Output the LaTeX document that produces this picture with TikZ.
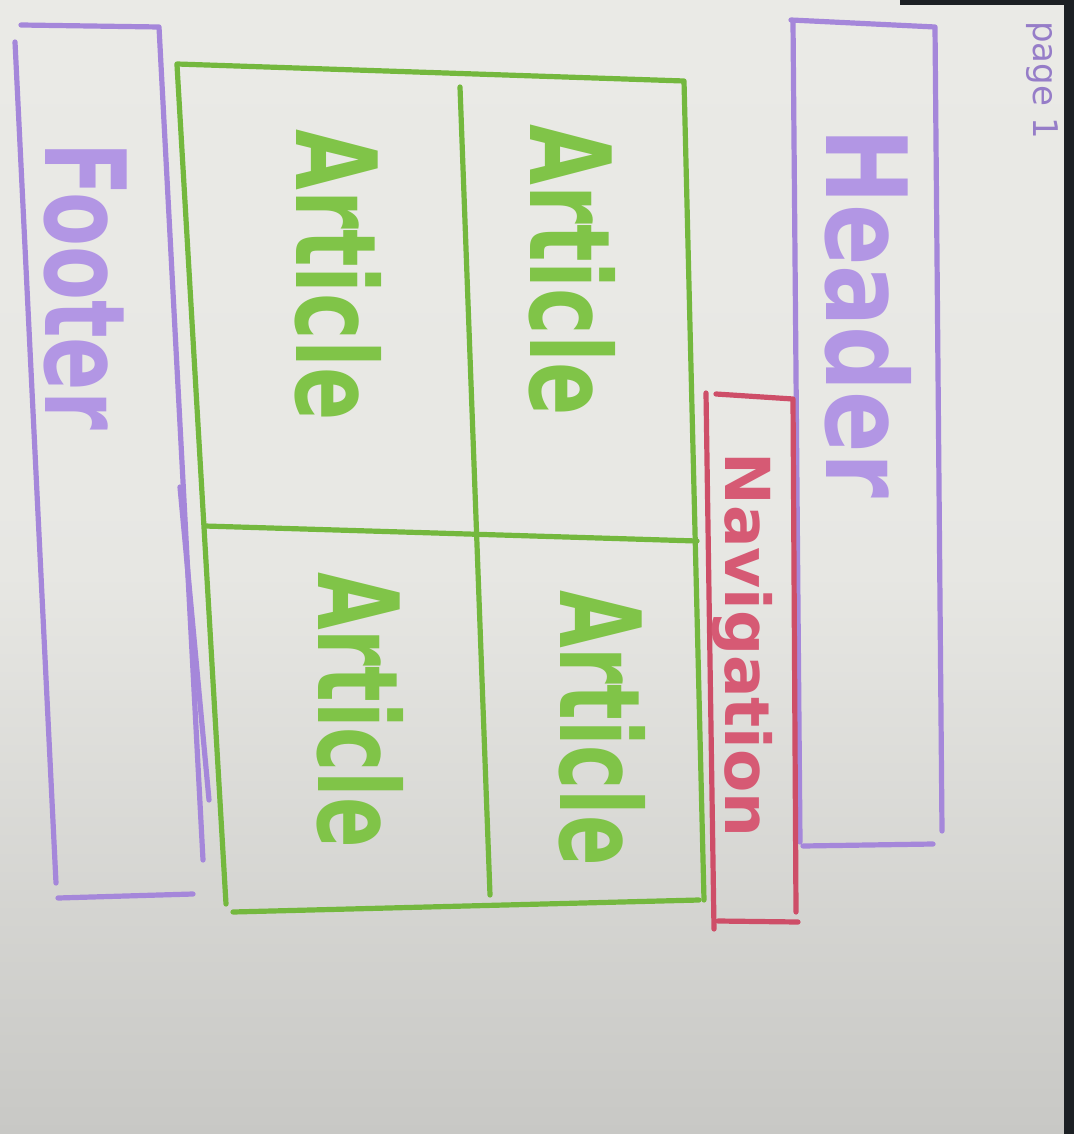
\documentclass[tikz,border=0pt]{standalone}
\usepackage{fontspec}
\newfontfamily\marker{DejaVu Sans Condensed}
\newfontfamily\pen{DejaVu Sans}
\definecolor{paperTop}{RGB}{234,234,230}
\definecolor{paperBot}{RGB}{200,200,197}
\definecolor{edge}{RGB}{28,32,36}
\definecolor{lilac}{RGB}{165,135,218}
\definecolor{lilacText}{RGB}{178,150,228}
\definecolor{grass}{RGB}{116,184,62}
\definecolor{grassText}{RGB}{128,196,72}
\definecolor{rose}{RGB}{206,78,104}
\definecolor{roseText}{RGB}{214,90,116}
\definecolor{penInk}{RGB}{150,125,200}
\tikzset{
  stroke/.style={line width=2.6pt, line cap=round, line join=round},
  lilacline/.style={stroke, draw=lilac},
  grassline/.style={stroke, draw=grass},
  roseline/.style={stroke, draw=rose},
  label/.style={inner sep=0pt, anchor=base, rotate=-90},
  bigword/.style={label, font=\marker\bfseries\fontsize{56}{60}\selectfont},
}
\begin{document}
\begin{tikzpicture}[x=0.5pt,y=-0.5pt]
  % paper
  \useasboundingbox (0,0) rectangle (1074,1134);
  \shade[top color=paperTop, bottom color=paperBot, middle color=paperTop!92!paperBot]
    (0,0) rectangle (1074,1134);
  \fill[edge] (1064,0) rectangle (1074,1134);
  \fill[edge] (900,0) rectangle (1074,5);

  % page number
  \node[label, font=\pen\fontsize{17}{18}\selectfont, text=penInk] (pagenum) at (1033,80) {page 1};

  % header block
  \draw[lilacline] (791,20) -- (935,27) -- (942,831);
  \draw[lilacline] (793,22) -- (800,842);
  \draw[lilacline] (803,846) -- (933,844);
  \node[bigword, text=lilacText, xscale=0.9] (header) at (826,313) {Header};

  % navigation block
  \draw[roseline] (716,394) -- (793,399) -- (796,912);
  \draw[roseline] (706,393) -- (714,929);
  \draw[roseline] (718,921) -- (798,922);
  \node[label, font=\marker\bfseries\fontsize{31}{34}\selectfont, text=roseText, xscale=1.13] (nav) at (725,645) {Navigation};

  % article grid
  \draw[grassline] (177,64) -- (684,81) -- (704,900);
  \draw[grassline] (177,65) -- (226,904);
  \draw[grassline] (233,912) -- (699,900);
  \draw[grassline] (205,526) -- (697,541);
  \draw[grassline] (460,87) -- (490,895);
  \node[bigword, text=grassText, xscale=0.78] (art1) at (296,275) {Article};
  \node[bigword, text=grassText, xscale=0.78] (art2) at (530,270) {Article};
  \node[bigword, text=grassText, xscale=0.74] (art3) at (318,710) {Article};
  \node[bigword, text=grassText, xscale=0.74] (art4) at (560,728) {Article};

  % footer block
  \draw[lilacline] (21,25) -- (159,27) -- (203,860);
  \draw[lilacline] (180,487) -- (209,800);
  \draw[lilacline] (15,42) -- (56,883);
  \draw[lilacline] (58,898) -- (193,894);
  \node[bigword, text=lilacText, xscale=0.78] (footer) at (46,286) {Footer};
\end{tikzpicture}
\end{document}
